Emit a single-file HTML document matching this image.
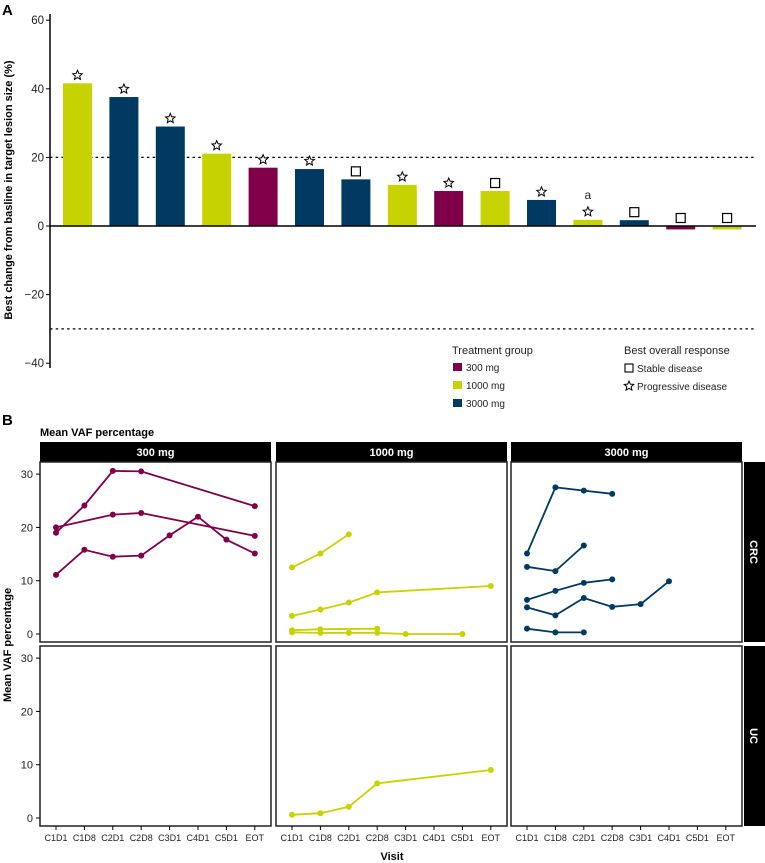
<!DOCTYPE html>
<html><head><meta charset="utf-8">
<style>
html,body{margin:0;padding:0;background:#fff;}
svg{display:block;font-family:"Liberation Sans",Arial,sans-serif;}
</style></head>
<body>
<svg id="chart" width="765" height="863" viewBox="0 0 765 863">
<text x="2" y="15" font-size="15" font-weight="bold">A</text>
<text x="2" y="425" font-size="15" font-weight="bold">B</text>
<g id="pa"></g>
<g id="pb"></g>
</svg>
<script>
// ---------- Panel A data ----------
const barValues = [41.6, 37.6, 29, 21.1, 17, 16.6, 13.6, 12, 10.2, 10.2, 7.6, 1.8, 1.7, -1, -1];
const barGroups = ["1000", "3000", "3000", "1000", "300", "3000", "3000", "1000", "300", "1000", "3000", "1000", "3000", "300", "1000"];
const barResponse = ["PD","PD","PD","PD","PD","PD","SD","PD","PD","SD","PD","PD","SD","SD","SD"];
const barNotes = ["","","","","","","","","","","","a","","",""];
const aTicks = [60, 40, 20, 0, -20, -40];
const aRefLines = [20, -30];

// ---------- Panel B data ----------
const visits = ["C1D1","C1D8","C2D1","C2D8","C3D1","C4D1","C5D1","EOT"];
const doses = ["300 mg","1000 mg","3000 mg"];
const cohorts = ["CRC","UC"];
const bTicks = [0, 10, 20, 30];
// series: [doseIndex, cohortIndex, visitIndices, values]
const s300crc1 = [0,0,[0,1,2,3,7],[19,24.1,30.6,30.5,24]];
const s300crc2 = [0,0,[0,2,3,7],[20,22.4,22.7,18.4]];
const s300crc3 = [0,0,[0,1,2,3,4,5,6,7],[11.1,15.8,14.5,14.7,18.5,22,17.7,15.1]];
const s1000crc1 = [1,0,[0,1,2],[12.5,15.1,18.7]];
const s1000crc2 = [1,0,[0,1,2,3,7],[3.4,4.6,5.9,7.8,9]];
const s1000crc3 = [1,0,[0,1,3],[0.7,0.9,1.0]];
const s1000crc4 = [1,0,[0,1,2,3,4,6],[0.3,0.2,0.2,0.2,0.0,0.0]];
const s3000crc1 = [2,0,[0,1,2,3],[15.1,27.5,26.9,26.3]];
const s3000crc2 = [2,0,[0,1,2],[12.6,11.8,16.6]];
const s3000crc3 = [2,0,[0,1,2,3],[6.4,8.1,9.6,10.25]];
const s3000crc4 = [2,0,[0,1,2,3,4,5],[5,3.5,6.75,5.1,5.6,9.9]];
const s3000crc5 = [2,0,[0,1,2],[1,0.3,0.3]];
const s1000uc1 = [1,1,[0,1,2,3,7],[0.6,0.9,2.1,6.5,9]];
const allSeries = [s300crc1,s300crc2,s300crc3,s1000crc1,s1000crc2,s1000crc3,s1000crc4,s3000crc1,s3000crc2,s3000crc3,s3000crc4,s3000crc5,s1000uc1];

const colors = {"300":"#7f0049","1000":"#c7d300","3000":"#003a63"};
const doseColors = ["#7f0049","#c7d300","#003a63"];
const NS = "http://www.w3.org/2000/svg";
function mk(parent, tag, attrs, text){
  const e = document.createElementNS(NS, tag);
  for (const k in attrs) e.setAttribute(k, attrs[k]);
  if (text !== undefined) e.textContent = text;
  parent.appendChild(e); return e;
}

// ---------- Panel A ----------
const pa = document.getElementById('pa');
const yA = v => 226 - v * 3.43;
const xA = i => 77.5 + i * 46.4;
const axA = mk(pa,'line',{x1:50,x2:50,y1:14,y2:368,stroke:'#000','stroke-width':1.5});


aTicks.forEach(t=>{
  const tk = mk(pa,'line',{x1:46,x2:50,y1:yA(t),y2:yA(t),stroke:'#000','stroke-width':1});
  
  
  const lb = mk(pa,'text',{x:44,y:yA(t)+4,'font-size':11.5,'text-anchor':'end',fill:'#222'}, t<0?('\u2212'+(-t)):String(t));
  
  
});
aRefLines.forEach(r=>{
  const l = mk(pa,'line',{x1:50,x2:755,y1:yA(r),y2:yA(r),stroke:'#000','stroke-width':1.3,'stroke-dasharray':'2.5,3.2'});
  
  
});
const yt = mk(pa,'text',{x:0,y:0,'font-size':11,'font-weight':'bold','text-anchor':'middle',transform:'translate(12,190) rotate(-90)'},'Best change from basline in target lesion size (%)');


function star(g,cx,cy){
  const pts=[];
  for(let k=0;k<10;k++){const r=k%2?2.3:5;const a=-Math.PI/2+k*Math.PI/5;pts.push((cx+r*Math.cos(a)).toFixed(2)+','+(cy+r*Math.sin(a)).toFixed(2));}
  return mk(g,'polygon',{points:pts.join(' '),fill:'#fff',stroke:'#000','stroke-width':1});
}
barValues.forEach((v,i)=>{
  const x = xA(i)-14.5, y0 = yA(0), y1 = yA(v);
  const b = mk(pa,'rect',{x:x,y:Math.min(y0,y1),width:29,height:Math.abs(y1-y0),fill:colors[barGroups[i]]});
  
  
  const my = (v>0?y1:y0) - 8;
  let m;
  if (barResponse[i]==='PD') m = star(pa,xA(i),my);
  else m = mk(pa,'rect',{x:xA(i)-4.5,y:my-4.5,width:9,height:9,fill:'#fff',stroke:'#000','stroke-width':1.2});
  
  
  if (barNotes[i]) {
    const n = mk(pa,'text',{x:xA(i),y:my-13,'font-size':12,'text-anchor':'middle',fill:'#222'},barNotes[i]);
    
    
  }
});
const zl = mk(pa,'line',{x1:50,x2:756,y1:yA(0),y2:yA(0),stroke:'#000','stroke-width':1.5});


// legends
const lg1 = mk(pa,'text',{x:452,y:354,'font-size':11,fill:'#222'},'Treatment group');


["300","1000","3000"].forEach((d,k)=>{
  const sw = mk(pa,'rect',{x:453,y:363+k*18,width:9,height:8,fill:colors[d]});
  
  
  const t = mk(pa,'text',{x:466,y:371+k*18,'font-size':10,fill:'#222'},d+' mg');
  
  
});
const lg2 = mk(pa,'text',{x:624,y:354,'font-size':11,fill:'#222'},'Best overall response');


const sq = mk(pa,'rect',{x:625,y:364,width:8,height:8,fill:'#fff',stroke:'#000','stroke-width':1.1});


const st1 = mk(pa,'text',{x:637,y:372,'font-size':10,fill:'#222'},'Stable disease');


const si = star(pa,629,386);


const st2 = mk(pa,'text',{x:637,y:390,'font-size':10,fill:'#222'},'Progressive disease');



// ---------- Panel B ----------
const pb = document.getElementById('pb');
const panelX = [40, 276, 511];
const panelW = 231;
const rowY = [462, 646];
const rowH = 180;
const xB = (p,vi) => panelX[p] + 16 + vi*28.4;
const yB = (r,v) => rowY[r] + 172 - v*5.33;
const bt = mk(pb,'text',{x:40,y:436,'font-size':11,'font-weight':'bold'},'Mean VAF percentage');


doses.forEach((d,p)=>{
  const h = mk(pb,'rect',{x:panelX[p],y:442,width:panelW,height:20,fill:'#000'});
  
  
  const ht = mk(pb,'text',{x:panelX[p]+panelW/2,y:456,'font-size':11,'font-weight':'bold',fill:'#fff','text-anchor':'middle'},d);
  
  
});
cohorts.forEach((c,r)=>{
  const s = mk(pb,'rect',{x:744,y:rowY[r],width:21,height:rowH,fill:'#000'});
  
  
  const st = mk(pb,'text',{x:0,y:0,'font-size':11,'font-weight':'bold',fill:'#fff','text-anchor':'middle',transform:`translate(750,${rowY[r]+rowH/2}) rotate(90)`},c);
  
  
  doses.forEach((d,p)=>{
    const fr = mk(pb,'rect',{x:panelX[p],y:rowY[r],width:panelW,height:rowH,fill:'#fff',stroke:'#222','stroke-width':1.5});
    
    
  });
  bTicks.forEach(t=>{
    const tk = mk(pb,'line',{x1:36,x2:40,y1:yB(r,t),y2:yB(r,t),stroke:'#000'});
    
    
    const tl = mk(pb,'text',{x:33,y:yB(r,t)+4,'font-size':11,'text-anchor':'end',fill:'#222'},String(t));
    
    
  });
});
doses.forEach((d,p)=>{
  visits.forEach((v,vi)=>{
    const tk = mk(pb,'line',{x1:xB(p,vi),x2:xB(p,vi),y1:826,y2:830,stroke:'#000'});
    
    
    const tl = mk(pb,'text',{x:xB(p,vi),y:841,'font-size':9,'text-anchor':'middle',fill:'#222'},v);
    
    
  });
});
const vt = mk(pb,'text',{x:392,y:860,'font-size':11,'font-weight':'bold','text-anchor':'middle'},'Visit');


const yt2 = mk(pb,'text',{x:0,y:0,'font-size':11,'font-weight':'bold','text-anchor':'middle',transform:'translate(11,645) rotate(-90)'},'Mean VAF percentage');


allSeries.forEach((s,si)=>{
  const [p,r,vis,vals] = s;
  const pts = vis.map((vi,k)=>xB(p,vi).toFixed(1)+','+yB(r,vals[k]).toFixed(1)).join(' ');
  const ln = mk(pb,'polyline',{points:pts,fill:'none',stroke:doseColors[p],'stroke-width':1.8});
  
  
  vis.forEach((vi,k)=>{
    const c = mk(pb,'circle',{cx:xB(p,vi),cy:yB(r,vals[k]),r:3,fill:doseColors[p]});
    
    
  });
});
</script>
</body></html>
